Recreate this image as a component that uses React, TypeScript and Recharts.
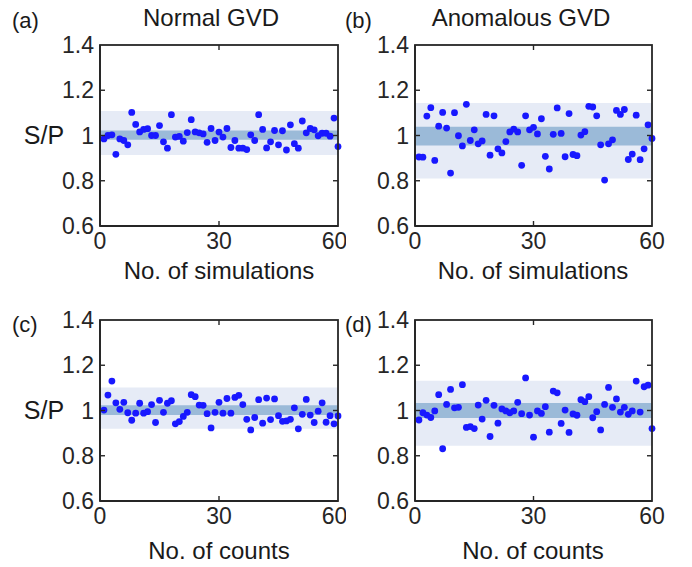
import { ReferenceArea, Scatter, ScatterChart, XAxis, YAxis } from 'recharts';

const xTicks = [0, 30, 60];
const yTicks = [0.6, 0.8, 1, 1.2, 1.4];

// S/P ratio per run, runs 1..60
const normalSim = [
  0.985, 1.0, 1.003, 0.917, 0.985, 0.978, 0.959, 1.102, 1.049, 1.016,
  1.027, 1.03, 1.0, 1.0, 1.044, 0.972, 0.944, 1.092, 0.993, 0.996,
  0.975, 1.013, 1.07, 1.016, 1.012, 1.007, 0.97, 1.031, 0.978, 1.015,
  0.993, 1.031, 0.947, 0.978, 0.944, 0.944, 0.938, 1.003, 0.978, 1.092,
  1.027, 0.945, 0.972, 1.022, 0.959, 1.021, 0.936, 1.047, 0.964, 0.944,
  1.064, 1.012, 1.031, 1.025, 0.999, 1.01, 1.01, 0.997, 1.077, 0.951
];
const anomalousSim = [
  0.905, 0.904, 1.086, 1.123, 0.89, 1.041, 1.102, 1.033, 0.834, 1.101,
  0.999, 0.954, 1.138, 0.978, 1.025, 0.963, 0.976, 1.093, 0.913, 1.087,
  0.941, 0.923, 0.973, 1.016, 1.028, 1.016, 0.868, 1.087, 1.025, 1.036,
  1.007, 1.074, 0.908, 0.852, 1.005, 1.122, 1.009, 0.906, 1.097, 0.916,
  0.911, 1.002, 1.017, 1.129, 1.126, 1.087, 0.959, 0.803, 0.963, 0.981,
  1.111, 1.093, 1.115, 0.894, 0.918, 1.09, 0.893, 0.941, 1.047, 0.987
];
const normalCounts = [
  1.002, 1.068, 1.13, 1.034, 1.005, 1.036, 0.99, 0.957, 0.988, 1.032,
  0.988, 0.995, 1.026, 0.947, 1.045, 0.992, 1.032, 1.043, 0.941, 0.951,
  0.974, 0.992, 1.07, 1.061, 1.024, 1.023, 0.986, 0.923, 0.992, 1.036,
  0.988, 1.053, 0.988, 1.058, 1.067, 1.026, 0.961, 0.914, 0.969, 1.048,
  0.944, 1.055, 0.96, 1.051, 0.977, 0.952, 0.954, 0.961, 1.012, 0.919,
  0.983, 1.049, 0.98, 0.947, 0.997, 1.034, 0.948, 0.977, 0.941, 0.976
];
const anomalousCounts = [
  0.958, 0.99, 0.98, 0.969, 0.998, 1.07, 0.831, 1.027, 1.093, 1.012,
  1.014, 1.114, 0.925, 0.929, 0.92, 1.024, 0.962, 1.045, 0.885, 1.023,
  0.944, 1.007, 0.998, 0.99, 0.998, 1.036, 0.986, 1.144, 0.98, 0.882,
  0.998, 0.987, 1.017, 0.904, 1.086, 1.078, 0.943, 1.002, 0.903, 0.985,
  0.979, 1.048, 1.039, 1.061, 0.968, 0.995, 0.914, 1.027, 1.102, 1.014,
  1.051, 0.993, 1.014, 0.983, 0.998, 1.13, 0.993, 1.105, 1.112, 0.92
];

// [low, high] of the wide (light) band and the narrow (dark) band
const normalSimWide = [0.914, 1.108];
const normalSimCore = [0.981, 1.022];
const anomalousSimWide = [0.81, 1.144];
const anomalousSimCore = [0.956, 1.039];
const normalCountsWide = [0.919, 1.102];
const normalCountsCore = [0.98, 1.023];
const anomalousCountsWide = [0.844, 1.131];
const anomalousCountsCore = [0.967, 1.033];

const FONT = '"Liberation Sans", Arial, Helvetica, sans-serif';
const INK = '#262626';
const DOT = '#1818ff';
const SW = 1.8;

type Margin = { top: number; left: number; right: number; bottom: number };

// inset is where the plot area sits inside the panel; axis sizes are taken off it
function Panel({ values, wide, core, left, top, width, height, inset }: {
  values: number[];
  wide: number[];
  core: number[];
  left: number;
  top: number;
  width: number;
  height: number;
  inset: Margin;
}) {
  const data = values.map((v, i) => ({ x: i + 1, y: v }));
  const margin = { top: inset.top, left: inset.left - 40, right: inset.right, bottom: inset.bottom - 30 };
  const tick = { fill: INK, fontSize: 23, fontFamily: FONT };
  const plotW = width - inset.left - inset.right;
  const plotH = height - inset.top - inset.bottom;
  // frame overlay follows the same plot rectangle as the chart margins
  const fx = (t: number) => inset.left + (plotW * t) / 60;
  const fy = (t: number) => inset.top + (plotH * (1.4 - t)) / 0.8;
  return (
    <div style={{ position: 'absolute', left, top, width, height }}>
      <ScatterChart width={width} height={height} margin={margin}>
        <XAxis dataKey="x" type="number" domain={[0, 60]} ticks={xTicks} height={30}
          stroke={INK} strokeWidth={SW} tickLine={false} tickSize={0} tickMargin={7} tick={tick} />
        <YAxis dataKey="y" type="number" domain={[0.6, 1.4]} ticks={yTicks} width={40}
          stroke={INK} strokeWidth={SW} tickLine={false} tickSize={0} tickMargin={6} tick={tick} />
        <ReferenceArea y1={wide[0]} y2={wide[1]} fill="#e6ebf6" fillOpacity={1} stroke="none" />
        <ReferenceArea y1={core[0]} y2={core[1]} fill="#9bbad8" fillOpacity={1} stroke="none" />
        <Scatter data={data} isAnimationActive={false}
          shape={(p: any) => <circle cx={p.cx} cy={p.cy} r={3.4} fill={DOT} />} />
      </ScatterChart>
      <svg width={width} height={height} style={{ position: 'absolute', left: 0, top: 0, pointerEvents: 'none' }}>
        <rect x={inset.left} y={inset.top} width={plotW} height={plotH} fill="none" stroke={INK} strokeWidth={SW} />
        {xTicks.slice(1, -1).map((t) => (
          <g key={`x${t}`}>
            <line x1={fx(t)} x2={fx(t)} y1={inset.top + plotH} y2={inset.top + plotH - 5} stroke={INK} strokeWidth={1.4} />
            <line x1={fx(t)} x2={fx(t)} y1={inset.top} y2={inset.top + 5} stroke={INK} strokeWidth={1.4} />
          </g>
        ))}
        {yTicks.slice(1, -1).map((t) => (
          <g key={`y${t}`}>
            <line x1={inset.left} x2={inset.left + 5} y1={fy(t)} y2={fy(t)} stroke={INK} strokeWidth={1.4} />
            <line x1={inset.left + plotW} x2={inset.left + plotW - 5} y1={fy(t)} y2={fy(t)} stroke={INK} strokeWidth={1.4} />
          </g>
        ))}
      </svg>
    </div>
  );
}

export default function App() {
  const label = { fontFamily: FONT, fill: '#1a1a1a' };
  return (
    <div style={{ position: 'absolute', left: 0, top: 0, width: 692, height: 567, background: '#fff', fontFamily: FONT }}>
      <Panel values={normalSim} wide={normalSimWide} core={normalSimCore}
        left={0} top={0} width={346} height={283} inset={{ top: 45, left: 100, right: 8, bottom: 57 }} />
      <Panel values={anomalousSim} wide={anomalousSimWide} core={anomalousSimCore}
        left={346} top={0} width={346} height={283} inset={{ top: 45, left: 69, right: 40, bottom: 57 }} />
      <Panel values={normalCounts} wide={normalCountsWide} core={normalCountsCore}
        left={0} top={283} width={346} height={284} inset={{ top: 37, left: 100, right: 8, bottom: 66 }} />
      <Panel values={anomalousCounts} wide={anomalousCountsWide} core={anomalousCountsCore}
        left={346} top={283} width={346} height={284} inset={{ top: 37, left: 69, right: 40, bottom: 66 }} />
      <svg width={692} height={567} style={{ position: 'absolute', left: 0, top: 0, pointerEvents: 'none' }}>
        <text x={12} y={28} fontSize={22} {...label}>(a)</text>
        <text x={345} y={28} fontSize={22} {...label}>(b)</text>
        <text x={12} y={332} fontSize={22} {...label}>(c)</text>
        <text x={345} y={332} fontSize={22} {...label}>(d)</text>
        <text x={211} y={26} fontSize={24} textAnchor="middle" {...label}>Normal GVD</text>
        <text x={521} y={26} fontSize={24} textAnchor="middle" {...label}>Anomalous GVD</text>
        <text x={44} y={144} fontSize={25} textAnchor="middle" {...label}>S/P</text>
        <text x={44} y={419} fontSize={25} textAnchor="middle" {...label}>S/P</text>
        <text x={219} y={279} fontSize={24} textAnchor="middle" {...label}>No. of simulations</text>
        <text x={533} y={279} fontSize={24} textAnchor="middle" {...label}>No. of simulations</text>
        <text x={219} y={559} fontSize={24} textAnchor="middle" {...label}>No. of counts</text>
        <text x={533} y={559} fontSize={24} textAnchor="middle" {...label}>No. of counts</text>
      </svg>
    </div>
  );
}
